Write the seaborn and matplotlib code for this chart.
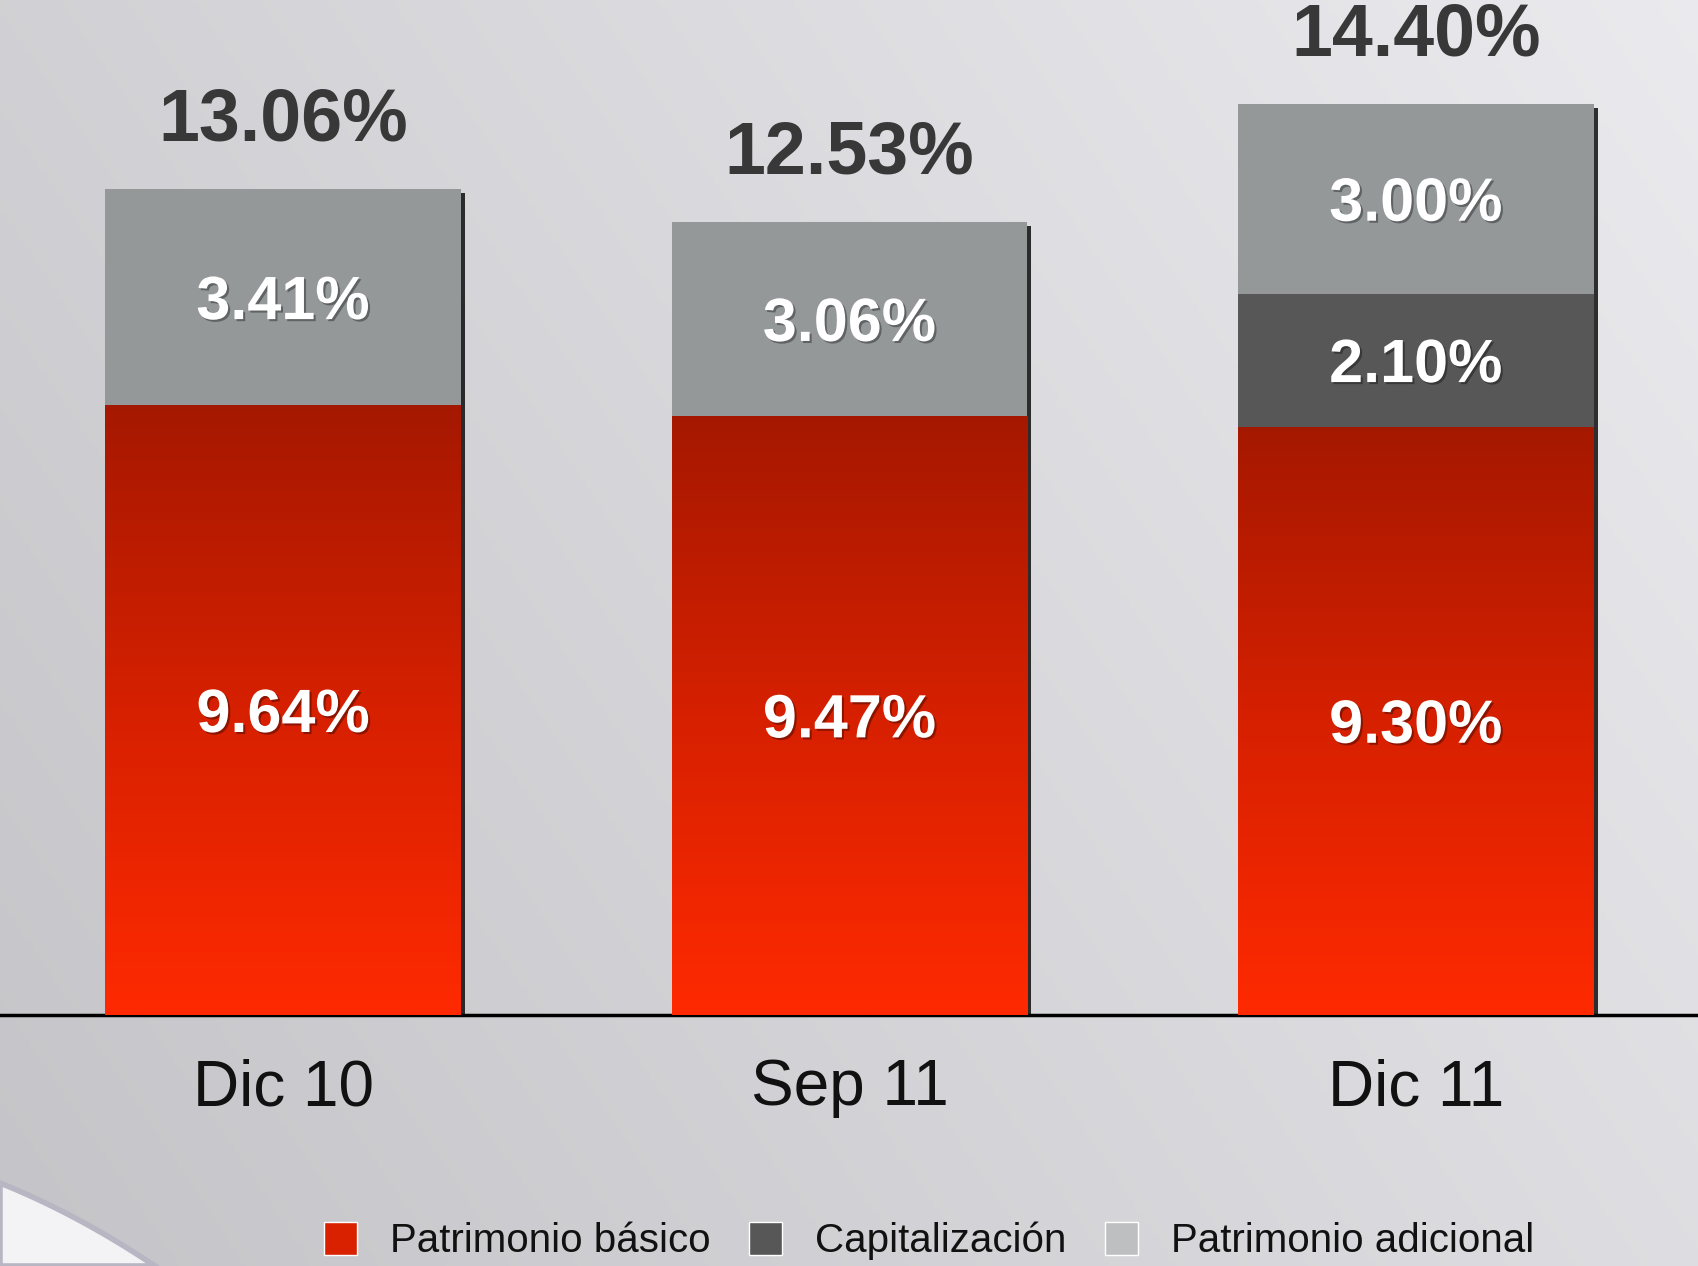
import numpy as np
import seaborn as sns
import matplotlib.pyplot as plt
from matplotlib import patheffects as pe
from matplotlib.patches import Patch, Rectangle, Polygon
from matplotlib.colors import LinearSegmentedColormap
from matplotlib.transforms import ScaledTranslation

sns.set_theme(style="white")
plt.rcParams["font.family"] = ["Liberation Sans", "DejaVu Sans"]

### data
periods = ["Dic 10", "Sep 11", "Dic 11"]
patrimonio_basico = [9.64, 9.47, 9.30]
capitalizacion = [0.0, 0.0, 2.10]
patrimonio_adicional = [3.41, 3.06, 3.00]
totals = [13.06, 12.53, 14.40]
legend_labels = ["Patrimonio básico", "Capitalización", "Patrimonio adicional"]

red_cmap = LinearSegmentedColormap.from_list("rojo", ["#FF2A00", "#D62000", "#A51800"])
col_cap = "#575757"
col_adic = "#949899"
col_adic_legend = "#BDBFC1"

W, H = 1699, 1266
fig = plt.figure(figsize=(W / 100, H / 100), dpi=100)

# --- background (soft grey gradient + white swoosh in the corner)
bg = fig.add_axes([0, 0, 1, 1], zorder=-10)
xx, yy = np.meshgrid(np.linspace(0, 1, 400), np.linspace(0, 1, 300))
val = 0.77 + 0.10 * xx + 0.05 * (1 - yy)
img = np.dstack([val, val, np.clip(val + 0.015, 0, 1)])
bg.imshow(img, extent=(0, W, 0, H), origin="upper", aspect="auto")
t = np.linspace(0, 1, 50)
arc_x = 155 * t
arc_y = 1183 + 83 * (0.75 * t + 0.25 * t ** 2)
bg.add_patch(Polygon(np.column_stack([np.r_[arc_x, 0], H - np.r_[arc_y, H]]),
                     closed=True, facecolor="#F3F3F5", edgecolor="#B7B6C2", lw=4))
bg.set_xlim(0, W)
bg.set_ylim(0, H)
bg.axis("off")

# --- main axes
ax_h = 1015 / H
ax = fig.add_axes([0, 1 - ax_h, 1, ax_h])
ax.set_facecolor("none")

bottom_cap = list(patrimonio_basico)
bottom_adic = [b + c for b, c in zip(patrimonio_basico, capitalizacion)]

bar_w = 0.628
sns.barplot(x=periods, y=patrimonio_basico, color="#D42000", saturation=1,
            width=bar_w, ax=ax, zorder=2, linewidth=0)
n_red = len(ax.patches)
sns.barplot(x=periods, y=capitalizacion, bottom=bottom_cap, color=col_cap, saturation=1,
            width=bar_w, ax=ax, zorder=2, linewidth=0)
sns.barplot(x=periods, y=patrimonio_adicional, bottom=bottom_adic, color=col_adic,
            saturation=1, width=bar_w, ax=ax, zorder=2, linewidth=0)

# red gradient inside the base segments
grad = np.linspace(0, 1, 256).reshape(-1, 1)
for p in ax.patches[:n_red]:
    x0, w, h = p.get_x(), p.get_width(), p.get_height()
    im = ax.imshow(grad, extent=(x0, x0 + w, 0, h), origin="lower", cmap=red_cmap,
                   aspect="auto", zorder=2.1)
    im.set_clip_path(p)

# drop shadow behind each full stack
shadow_tr = ax.transData + ScaledTranslation(4 / 100, -4 / 100, fig.dpi_scale_trans)
for p, tot in zip(ax.patches[:n_red], totals):
    ax.add_patch(Rectangle((p.get_x(), 0), p.get_width(), tot, transform=shadow_tr,
                           facecolor="black", alpha=0.8, zorder=1.5, lw=0))

# labels
glow = [pe.withSimplePatchShadow(offset=(1.5, -1.5), shadow_rgbFace="black", alpha=0.35)]
for i in range(len(periods)):
    segs = [(0, patrimonio_basico[i]), (bottom_cap[i], capitalizacion[i]),
            (bottom_adic[i], patrimonio_adicional[i])]
    for base, v in segs:
        if v > 0:
            ax.text(i, base + v / 2, f"{v:.2f}%", ha="center", va="center_baseline",
                    fontsize=44, weight="bold", color="white", zorder=5, path_effects=glow)
    ax.annotate(f"{totals[i]:.2f}%", (i, totals[i]), xytext=(0, 49), textcoords="offset points",
                ha="center", va="center", fontsize=53, weight="bold", color="#383838",
                zorder=5, annotation_clip=False)

ax.set_xlim(-0.5, 2.5)
ax.set_ylim(0, 16.04)
ax.set_yticks([])
ax.set_xlabel("")
ax.set_ylabel("")
ax.tick_params(axis="x", length=0, pad=31, labelsize=46, labelcolor="#111111")
sns.despine(ax=ax, left=True, top=True, right=True)
ax.spines["bottom"].set_color("black")
ax.spines["bottom"].set_linewidth(2.5)
ax.spines["bottom"].set_zorder(1)

handles = [Patch(facecolor="#D92100"), Patch(facecolor=col_cap), Patch(facecolor=col_adic_legend)]
fig.legend(handles, legend_labels, loc="center", bbox_to_anchor=(0.547, 0.0197), ncol=3,
           frameon=False, fontsize=29, handlelength=0.82, handleheight=0.87,
           handletextpad=0.82, columnspacing=0.95, labelcolor="#111111")

fig.savefig("out.png", dpi=100)
